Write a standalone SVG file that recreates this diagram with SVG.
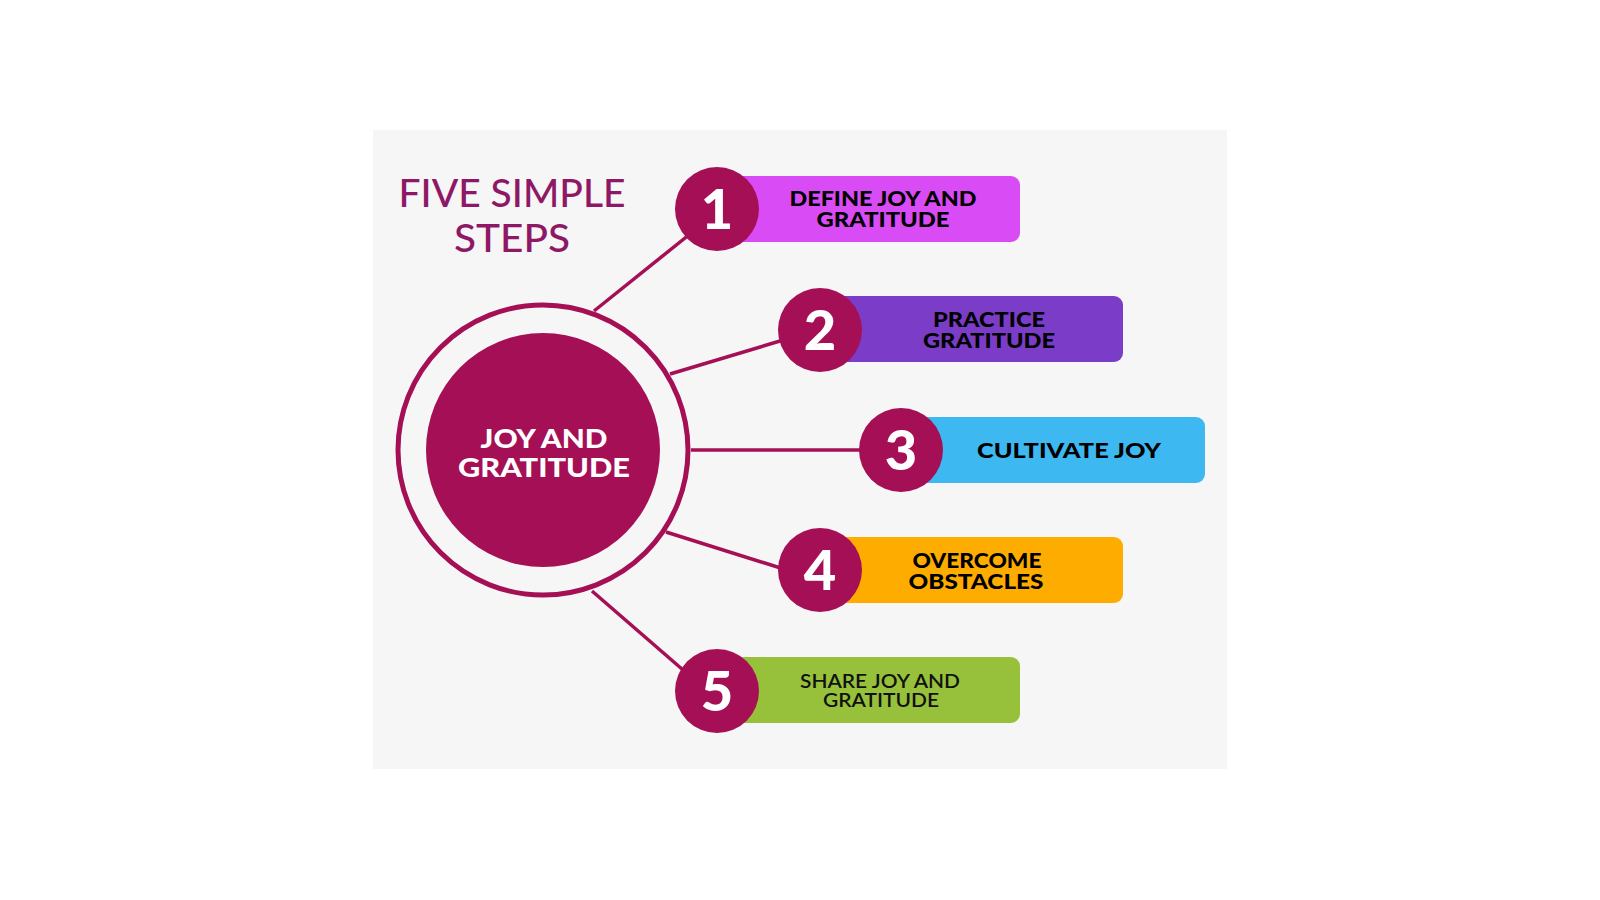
<svg xmlns="http://www.w3.org/2000/svg" width="1600" height="900" viewBox="0 0 1600 900">
<style>
.num{fill:#A50F55}
.numt{font-family:Lato,"Liberation Sans",sans-serif;font-weight:900;font-size:56px;fill:#ffffff;text-anchor:middle}
.lbl{font-family:Lato,"Liberation Sans",sans-serif;font-weight:900;font-size:21px;fill:#000000;text-anchor:middle}
.lbl5{font-family:Lato,"Liberation Sans",sans-serif;font-weight:600;font-size:20px;fill:#111111;text-anchor:middle}
.ttl{font-family:Lato,"Liberation Sans",sans-serif;font-weight:500;font-size:38px;fill:#8E1866;text-anchor:middle}
.ctr{font-family:Lato,"Liberation Sans",sans-serif;font-weight:900;font-size:27px;fill:#ffffff;text-anchor:middle}
.conn{stroke:#A50F55;stroke-width:3.5;fill:none}
</style>
<rect x="0" y="0" width="1600" height="900" fill="#ffffff"/>
<rect x="373" y="130" width="854" height="639" fill="#F6F6F6"/>
<text class="ttl" x="512" y="207" textLength="227" lengthAdjust="spacingAndGlyphs">FIVE SIMPLE</text>
<text class="ttl" x="512" y="252" textLength="116" lengthAdjust="spacingAndGlyphs">STEPS</text>
<g id="connectors">
<line class="conn" x1="594" y1="311" x2="695" y2="230"/>
<line class="conn" x1="670" y1="374" x2="790" y2="338"/>
<line class="conn" x1="691" y1="450" x2="880" y2="450"/>
<line class="conn" x1="666" y1="532" x2="790" y2="571"/>
<line class="conn" x1="592" y1="591" x2="690" y2="676"/>
</g>
<g id="center">
<circle cx="543" cy="450" r="145" fill="none" stroke="#A50F55" stroke-width="5"/>
<circle cx="543" cy="450" r="117" fill="#A50F55"/>
<text class="ctr" x="544" y="448" textLength="127" lengthAdjust="spacingAndGlyphs">JOY AND</text>
<text class="ctr" x="544" y="477" textLength="172" lengthAdjust="spacingAndGlyphs">GRATITUDE</text>
</g>
<g id="step1">
<rect x="730" y="176" width="290" height="66" rx="9" fill="#D94BF5"/>
<circle class="num" cx="717" cy="209" r="42"/>
<text class="numt" x="717" y="229">1</text>
<text class="lbl" x="883" y="206" textLength="187" lengthAdjust="spacingAndGlyphs">DEFINE JOY AND</text>
<text class="lbl" x="883" y="227" textLength="133" lengthAdjust="spacingAndGlyphs">GRATITUDE</text>
</g>
<g id="step2">
<rect x="832" y="296" width="291" height="66" rx="9" fill="#7B3CC8"/>
<circle class="num" cx="820" cy="330" r="42"/>
<text class="numt" x="820" y="350">2</text>
<text class="lbl" x="989" y="327" textLength="112" lengthAdjust="spacingAndGlyphs">PRACTICE</text>
<text class="lbl" x="989" y="348" textLength="132" lengthAdjust="spacingAndGlyphs">GRATITUDE</text>
</g>
<g id="step3">
<rect x="913" y="417" width="292" height="66" rx="9" fill="#3DB8F0"/>
<circle class="num" cx="901" cy="450" r="42"/>
<text class="numt" x="901" y="470">3</text>
<text class="lbl" x="1069" y="458" font-size="23" textLength="184" lengthAdjust="spacingAndGlyphs">CULTIVATE JOY</text>
</g>
<g id="step4">
<rect x="832" y="537" width="291" height="66" rx="9" fill="#FFAC00"/>
<circle class="num" cx="820" cy="570" r="42"/>
<text class="numt" x="820" y="590">4</text>
<text class="lbl" x="977" y="568" textLength="129" lengthAdjust="spacingAndGlyphs">OVERCOME</text>
<text class="lbl" x="976" y="589" textLength="135" lengthAdjust="spacingAndGlyphs">OBSTACLES</text>
</g>
<g id="step5">
<rect x="730" y="657" width="290" height="66" rx="9" fill="#97C13A"/>
<circle class="num" cx="717" cy="691" r="42"/>
<text class="numt" x="717" y="711">5</text>
<text class="lbl5" x="880" y="688" textLength="160" lengthAdjust="spacingAndGlyphs">SHARE JOY AND</text>
<text class="lbl5" x="881" y="707" textLength="116" lengthAdjust="spacingAndGlyphs">GRATITUDE</text>
</g>
</svg>
